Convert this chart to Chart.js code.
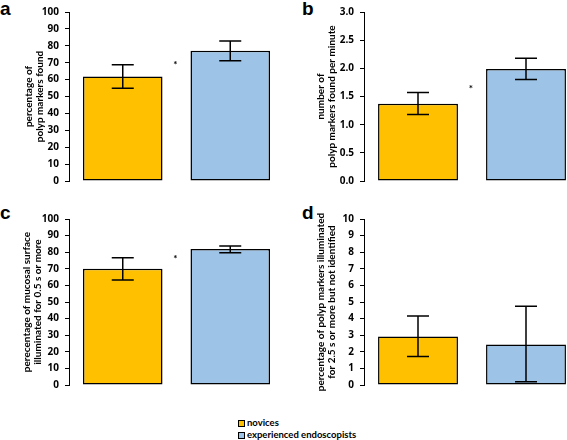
<!DOCTYPE html>
<html>
<head>
<meta charset="utf-8">
<script src="https://cdn.jsdelivr.net/npm/chart.js@4.4.1/dist/chart.umd.min.js"></script>
<style>
  body { margin: 0; width: 567px; height: 440px; overflow: hidden; background: #fff; position: relative; }
  canvas { position: absolute; }
  .lbl { position: absolute; font: bold 19px "Liberation Sans", Arial, sans-serif; line-height: 19px; color: #000; }
  .leg { position: absolute; left: 238px; font: bold 9.5px Lato, sans-serif; line-height: 11px; color: #000; }
  .leg span { display: inline-block; width: 5px; height: 5px; border: 1.5px solid #000; margin-right: 2px; vertical-align: -1px; }
</style>
</head>
<body>
<div class="lbl" style="left:0px;top:-1px">a</div>
<div class="lbl" style="left:302px;top:-1px">b</div>
<div class="lbl" style="left:0px;top:203px">c</div>
<div class="lbl" style="left:302px;top:203px">d</div>

<canvas id="chartA" width="290" height="195" style="left:0px;top:0px"></canvas>
<canvas id="chartB" width="300" height="195" style="left:283px;top:0px"></canvas>
<canvas id="chartC" width="290" height="205" style="left:0px;top:195px"></canvas>
<canvas id="chartD" width="300" height="205" style="left:283px;top:195px"></canvas>

<div class="leg" style="top:417px"><span style="background:#FFC000"></span>novices</div>
<div class="leg" style="top:429px"><span style="background:#9DC3E6"></span>experienced endoscopists</div>

<script>
var groups = ['novices', 'experienced endoscopists'];
var barColors = ['#FFC000', '#9DC3E6'];

// a: percentage of polyp markers found
var foundPct = [61.8, 77.1];
var foundPctLow = [54.9, 71.2];
var foundPctHigh = [68.8, 82.9];

// b: polyp markers found per minute
var foundRate = [1.37, 1.99];
var foundRateLow = [1.18, 1.80];
var foundRateHigh = [1.57, 2.18];

// c: mucosal surface illuminated >= 0.5 s
var surfacePct = [70.0, 81.9];
var surfacePctLow = [63.3, 79.6];
var surfacePctHigh = [76.6, 83.8];

// d: markers illuminated >= 2.5 s but missed
var missedPct = [2.92, 2.44];
var missedPctLow = [1.71, 0.19];
var missedPctHigh = [4.15, 4.74];

// where the significance star sits (y value), null = none
var starA = 70, starB = 1.68, starC = 77, starD = null;

var errorBars = {
    id: 'errorBars',
    afterDatasetsDraw: function (chart) {
        var o = chart.options.plugins.errorBars;
        var meta = chart.getDatasetMeta(0);
        var y = chart.scales.y, x = chart.scales.x;
        var ctx = chart.ctx;
        ctx.save();
        ctx.strokeStyle = '#000';
        ctx.lineWidth = 1.5;
        meta.data.forEach(function (bar, i) {
            var yl = y.getPixelForValue(o.low[i]);
            var yh = y.getPixelForValue(o.high[i]);
            ctx.beginPath();
            ctx.moveTo(bar.x, yl); ctx.lineTo(bar.x, yh);
            ctx.moveTo(bar.x - 11, yl); ctx.lineTo(bar.x + 11, yl);
            ctx.moveTo(bar.x - 11, yh); ctx.lineTo(bar.x + 11, yh);
            ctx.stroke();
        });
        if (o.star !== null) {
            ctx.fillStyle = '#000';
            ctx.font = 'bold 10px Lato, sans-serif';
            ctx.textAlign = 'center';
            ctx.textBaseline = 'middle';
            ctx.fillText('*', x.getPixelForValue(0.5) - 1, y.getPixelForValue(o.star) + 2);
        }
        ctx.restore();
    }
};

function MakePanel(id, values, low, high, star, max, step, title, pad, axisWidth, decimals) {
    var ctx = document.getElementById(id).getContext('2d');
    return new Chart(ctx, {
        type: 'bar',
        data: {
            labels: groups,
            datasets: [{
                data: values,
                backgroundColor: barColors,
                borderColor: '#000',
                borderWidth: 1.5,
                borderSkipped: false,
                barPercentage: 0.74,
                categoryPercentage: 1
            }]
        },
        options: {
            responsive: false,
            animation: false,
            layout: { padding: pad },
            plugins: {
                legend: { display: false },
                tooltip: { enabled: false },
                errorBars: { low: low, high: high, star: star }
            },
            scales: {
                x: { display: false },
                y: {
                    min: 0,
                    max: max,
                    afterFit: function (s) { s.width = axisWidth; },
                    ticks: {
                        stepSize: step,
                        color: '#000',
                        padding: 6,
                        font: { family: 'Open Sans', weight: 'bold', size: 10 },
                        callback: function (v) { return v.toFixed(decimals); }
                    },
                    grid: { drawOnChartArea: false, drawTicks: true, tickLength: 4, color: '#000' },
                    border: { display: true, color: '#000', width: 1 },
                    title: {
                        display: true,
                        text: title,
                        color: '#000',
                        padding: 0,
                        font: { family: 'Lato', weight: 'bold', size: 10, lineHeight: 1.15 }
                    }
                }
            }
        },
        plugins: [errorBars]
    });
}

MakePanel('chartA', foundPct, foundPctLow, foundPctHigh, starA, 100, 10,
    ['percentage of', 'polyp markers found'],
    { left: 23, top: 11, right: 6, bottom: 14 }, 46, 0);
MakePanel('chartB', foundRate, foundRateLow, foundRateHigh, starB, 3, 0.5,
    ['number of', 'polyp markers found per minute'],
    { left: 32, top: 11, right: 3, bottom: 14 }, 49, 1);
MakePanel('chartC', surfacePct, surfacePctLow, surfacePctHigh, starC, 100, 10,
    ['perecentage of mucosal surface', 'illuminated for 0.5 s or more'],
    { left: 21, top: 24, right: 6, bottom: 15 }, 48, 0);
MakePanel('chartD', missedPct, missedPctLow, missedPctHigh, starD, 10, 1,
    ['percentage of polyp markers illuminated', 'for 2.5 s or more but not identified'],
    { left: 32, top: 24, right: 3, bottom: 15 }, 49, 0);
</script>
</body>
</html>
